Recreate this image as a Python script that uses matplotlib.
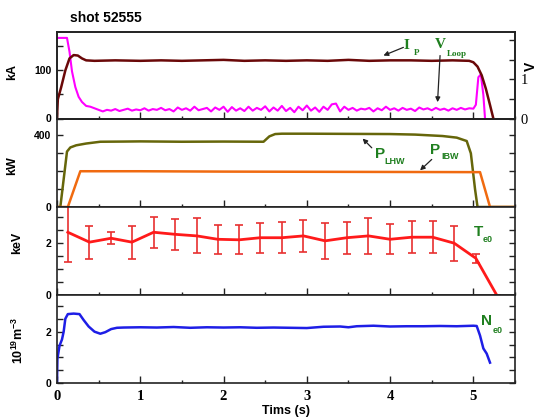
import matplotlib
matplotlib.use("Agg")
import matplotlib.pyplot as plt
from matplotlib.ticker import MultipleLocator, FixedLocator

plt.rcParams['font.family'] = ['Liberation Sans', 'DejaVu Sans']
plt.rcParams['mathtext.fontset'] = 'custom'
plt.rcParams['mathtext.rm'] = 'Liberation Sans'
plt.rcParams['mathtext.bf'] = 'Liberation Sans:bold'
plt.rcParams['mathtext.it'] = 'Liberation Sans:italic'

# ---------------- data ----------------
ip_t = [0.00, 0.01, 0.05, 0.10, 0.15, 0.20, 0.25, 0.30, 0.35, 0.45, 0.70, 1.00, 1.25, 1.50, 1.75,
        2.00, 2.25, 2.50, 2.75, 3.00, 3.25, 3.50, 3.75, 4.00, 4.25, 4.50, 4.75, 4.95, 5.00, 5.05,
        5.10, 5.15, 5.20, 5.24]
ip_kA = [0, 40, 65, 100, 125, 132, 131, 125, 121, 120, 121, 120, 121, 120, 121,
         122, 120, 121, 120, 121, 120, 122, 120, 121, 121, 120, 121, 120, 117, 108,
         90, 62, 28, 0]

vl_t = [0.00, 0.12, 0.15, 0.18, 0.22, 0.26, 0.30, 0.35, 0.40, 0.45, 0.50, 0.55, 0.60, 0.65, 0.70,
        0.75, 0.80, 0.85, 0.90, 0.95, 1.00, 1.05, 1.10, 1.15, 1.20, 1.25, 1.30, 1.35, 1.40, 1.45,
        1.50, 1.55, 1.60, 1.65, 1.70, 1.75, 1.80, 1.85, 1.90, 1.95, 2.00, 2.05, 2.10, 2.15, 2.20,
        2.25, 2.30, 2.35, 2.40, 2.45, 2.50, 2.55, 2.60, 2.65, 2.70, 2.75, 2.80, 2.85, 2.90, 2.95,
        3.00, 3.05, 3.10, 3.15, 3.20, 3.25, 3.30, 3.35, 3.40, 3.45, 3.50, 3.55, 3.60, 3.65, 3.70,
        3.75, 3.80, 3.85, 3.90, 3.95, 4.00, 4.05, 4.10, 4.15, 4.20, 4.25, 4.30, 4.35, 4.40, 4.45,
        4.50, 4.55, 4.60, 4.65, 4.70, 4.75, 4.80, 4.85, 4.90, 4.95, 5.00, 5.03, 5.06, 5.09, 5.12,
        5.14]
vl_V = [2.05, 2.05, 1.70, 1.20, 0.80, 0.55, 0.42, 0.32, 0.30, 0.26, 0.22, 0.18, 0.22, 0.20, 0.24,
        0.19, 0.22, 0.25, 0.20, 0.23, 0.21, 0.26, 0.20, 0.24, 0.22, 0.27, 0.21, 0.24, 0.18, 0.28,
        0.22, 0.26, 0.20, 0.30, 0.21, 0.24, 0.27, 0.18, 0.28, 0.22, 0.30, 0.17, 0.29, 0.20, 0.26,
        0.19, 0.30, 0.20, 0.27, 0.22, 0.31, 0.18, 0.28, 0.20, 0.32, 0.19, 0.27, 0.16, 0.30, 0.21,
        0.33, 0.20, 0.28, 0.17, 0.30, 0.22, 0.36, 0.38, 0.18, 0.30, 0.22, 0.27, 0.20, 0.25, 0.23,
        0.27, 0.18, 0.26, 0.21, 0.30, 0.22, 0.26, 0.20, 0.27, 0.22, 0.25, 0.19, 0.28, 0.23, 0.26,
        0.21, 0.27, 0.22, 0.25, 0.20, 0.26, 0.22, 0.27, 0.23, 0.26, 0.25, 0.35, 1.05, 1.12, 0.60,
        0.00]

lhw_t = [0.00, 0.04, 0.12, 0.16, 0.23, 0.35, 0.52, 0.80, 1.00, 1.50, 2.00, 2.48, 2.55, 2.62,
         2.70, 3.00, 3.50, 4.00, 4.30, 4.63, 4.80, 4.92, 4.97, 5.02, 5.05, 5.50]
lhw_kW = [0, 0, 310, 333, 345, 355, 365, 366, 367, 365, 366, 365, 395, 408,
          410, 410, 409, 408, 405, 397, 388, 369, 300, 100, 0, 0]

ibw_t = [0.00, 0.13, 0.28, 1.00, 2.00, 3.00, 4.00, 5.00, 5.08, 5.20, 5.50]
ibw_kW = [0, 0, 200, 200, 198, 197, 196, 195, 195, 0, 0]

te_t = [0.13, 0.39, 0.65, 0.90, 1.16, 1.42, 1.68, 1.93, 2.19, 2.44, 2.70,
        2.96, 3.22, 3.48, 3.74, 4.00, 4.26, 4.51, 4.77, 5.03, 5.28]
te_keV = [2.41, 2.03, 2.18, 2.03, 2.41, 2.33, 2.27, 2.14, 2.12, 2.20, 2.20,
          2.27, 2.08, 2.20, 2.27, 2.14, 2.22, 2.22, 1.99, 1.41, 0.00]
te_err = [1.15, 0.63, 0.24, 0.63, 0.60, 0.59, 0.67, 0.55, 0.55, 0.58, 0.59,
          0.60, 0.70, 0.62, 0.68, 0.58, 0.62, 0.61, 0.67, 0.18, 0.00]

ne_t = [0.00, 0.005, 0.03, 0.06, 0.08, 0.10, 0.13, 0.20, 0.27, 0.32, 0.38, 0.45, 0.52, 0.58,
        0.65, 0.72, 0.80, 1.00, 1.20, 1.40, 1.60, 1.80, 2.00, 2.20, 2.40, 2.60, 2.80, 3.00,
        3.20, 3.40, 3.50, 3.60, 3.80, 4.00, 4.20, 4.40, 4.60, 4.80, 5.00, 5.04, 5.08, 5.12,
        5.16, 5.20]
ne_1e19 = [0.0, 0.95, 1.45, 1.70, 2.00, 2.50, 2.68, 2.70, 2.68, 2.45, 2.20, 2.00, 1.92, 1.98,
           2.10, 2.15, 2.16, 2.17, 2.16, 2.18, 2.15, 2.17, 2.16, 2.17, 2.15, 2.16, 2.15, 2.14,
           2.19, 2.20, 2.17, 2.21, 2.23, 2.20, 2.21, 2.21, 2.22, 2.21, 2.23, 2.22, 1.85, 1.35,
           1.15, 0.80]

xticks = [0, 1, 2, 3, 4, 5]

# ---------------- figure ----------------
W, H = 538, 418
fig = plt.figure(figsize=(W / 100, H / 100), dpi=100)

def frac_box(top_px, bot_px):
    left, right = 57, 515
    return [left / W, 1 - bot_px / H, (right - left) / W, (bot_px - top_px) / H]

ax1 = fig.add_axes(frac_box(32, 118.5))
ax2 = fig.add_axes(frac_box(118.5, 207))
ax3 = fig.add_axes(frac_box(207, 295))
ax4 = fig.add_axes(frac_box(295, 383.3))
axes = [ax1, ax2, ax3, ax4]

green = '#1f7f1f'
spine_c = '#222222'

for ax in axes:
    ax.set_xlim(0, 5.5)
    ax.xaxis.set_major_locator(FixedLocator(xticks))
    ax.xaxis.set_minor_locator(MultipleLocator(0.5))
    for s in ax.spines.values():
        s.set_linewidth(1.2)
        s.set_color(spine_c)
    ax.tick_params(which='both', direction='in', top=False, right=True, color=spine_c, width=1.0)
    ax.tick_params(axis='x', which='major', length=5)
    ax.tick_params(axis='x', which='minor', length=2.5)
    ax.tick_params(axis='y', which='both', length=4, labelsize=7.5, pad=4)
    if ax is not ax4:
        ax.tick_params(axis='x', labelbottom=False)

ax4.tick_params(axis='x', labelsize=10.5, pad=5)
ax4.set_xticklabels([str(v) for v in xticks], fontfamily='Liberation Serif', fontweight='bold')

# Panel 1: Ip and Vloop
ax1r = ax1.twinx()
ax1r.set_ylim(0, 2.2)
ax1r.yaxis.set_major_locator(FixedLocator([0, 1, 2]))
ax1r.yaxis.set_minor_locator(MultipleLocator(0.5))
ax1r.set_yticklabels(['0', '1', ''], fontfamily='Liberation Serif', fontsize=10.5)
ax1r.tick_params(which='both', direction='in', length=4, color=spine_c, width=1.0, pad=4)
for s in ax1r.spines.values():
    s.set_linewidth(1.2)
    s.set_color(spine_c)
ax1r.plot(vl_t, vl_V, color='#ff00ff', lw=1.5)
ax1.set_zorder(ax1r.get_zorder() + 1)
ax1.patch.set_visible(False)
ax1.tick_params(right=False)
ax1.plot(ip_t, ip_kA, color='#6a0808', lw=1.8)
ax1.set_ylim(0, 180)
ax1.yaxis.set_major_locator(FixedLocator([0, 100]))
ax1.yaxis.set_minor_locator(FixedLocator([50, 150]))
ax1.set_yticklabels(['0', '100'], fontweight='bold')

# Panel 2: powers
ax2.plot(lhw_t, lhw_kW, color='#66660a', lw=1.8)
ax2.plot(ibw_t, ibw_kW, color='#f06a10', lw=1.8)
ax2.set_ylim(0, 495)
ax2.yaxis.set_major_locator(FixedLocator([0, 400]))
ax2.yaxis.set_minor_locator(MultipleLocator(100))
ax2.set_yticklabels(['0', '400'], fontweight='bold')

# Panel 3: Te
ax3.errorbar(te_t, te_keV, yerr=te_err, color='#ff1a1a', lw=2, elinewidth=1.2,
             ecolor='#e83030', capsize=3.2, capthick=1.2)
ax3.set_ylim(0, 3.38)
ax3.yaxis.set_major_locator(FixedLocator([0, 2]))
ax3.yaxis.set_minor_locator(MultipleLocator(0.5))
ax3.set_yticklabels(['0', '2'], fontweight='bold')

# Panel 4: ne
ax4.plot(ne_t, ne_1e19, color='#1e1ee6', lw=1.8)
ax4.set_ylim(0, 3.42)
ax4.yaxis.set_major_locator(FixedLocator([0, 2]))
ax4.yaxis.set_minor_locator(MultipleLocator(0.5))
ax4.set_yticklabels(['0', '2'], fontweight='bold')

# labels
ax1.set_ylabel('kA', fontsize=9, fontweight='bold')
ax1.yaxis.set_label_coords(-0.085, 0.54)
ax2.set_ylabel('kW', fontsize=9, fontweight='bold')
ax2.yaxis.set_label_coords(-0.085, 0.47)
ax3.set_ylabel('keV', fontsize=9, fontweight='bold')
ax3.yaxis.set_label_coords(-0.075, 0.59)
ax4.set_ylabel(r'$\mathbf{10^{19}m^{-3}}$', fontsize=9)
ax4.yaxis.set_label_coords(-0.068, 0.49)
ax4.set_xlabel('Tims (s)', fontsize=9, fontweight='bold', labelpad=1)

fig.text(70 / W, 1 - 18 / H, 'shot 52555', fontsize=10, fontweight='bold', ha='left', va='center')
fig.text(531 / W, 1 - 66 / H, 'V', fontsize=10, fontweight='bold', rotation=90, ha='center', va='center')

def sublabel(ax, xy_main, main, xy_sub, sub, family, size=11, subsize=6.5):
    ax.text(*xy_main, main, color=green, fontsize=size, fontweight='bold', family=family,
            ha='center', va='center')
    ax.text(*xy_sub, sub, color=green, fontsize=subsize, fontweight='bold', family=family,
            ha='center', va='center')

arrow = dict(arrowstyle='-|>', color='#222222', lw=0.9, mutation_scale=7, shrinkA=0, shrinkB=0)

sublabel(ax1, (4.2, 152), 'I', (4.32, 136), 'P', 'Liberation Serif')
ax1.annotate('', xy=(3.92, 131), xytext=(4.16, 148), arrowprops=arrow)
sublabel(ax1, (4.6, 153), 'V', (4.8, 135), 'Loop', 'Liberation Serif')
ax1.annotate('', xy=(4.57, 34), xytext=(4.6, 131), arrowprops=arrow)

sublabel(ax2, (3.88, 294), 'P', (4.06, 254), 'LHW', 'Liberation Sans')
ax2.annotate('', xy=(3.67, 383), xytext=(3.78, 331), arrowprops=arrow)
sublabel(ax2, (4.54, 318), 'P', (4.72, 281), 'IBW', 'Liberation Sans')
ax2.annotate('', xy=(4.36, 205), xytext=(4.50, 266), arrowprops=arrow)

sublabel(ax3, (5.06, 2.43), 'T', (5.17, 2.12), 'e0', 'Liberation Sans')
sublabel(ax4, (5.16, 2.43), 'N', (5.29, 2.05), 'e0', 'Liberation Sans')

fig.savefig('out.png', dpi=100)
